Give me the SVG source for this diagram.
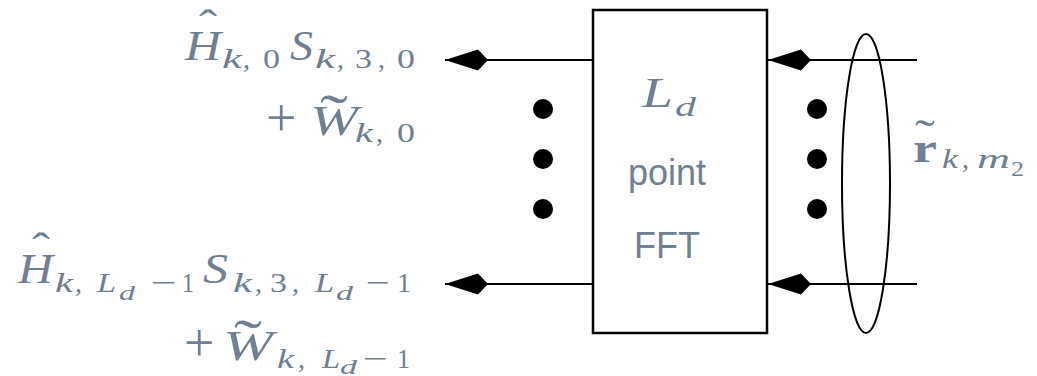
<svg xmlns="http://www.w3.org/2000/svg" width="1037" height="376" viewBox="0 0 1037 376">
<defs>
<style>
text{font-family:"Liberation Serif","Times New Roman",serif;fill:#708090;}
.i{font-style:italic;}
.n{font-style:normal;}
.b{font-weight:bold;}
.s0{font-size:42px;}
.s1{font-size:28px;}
.s2{font-size:20px;}
.sans{font-family:"Liberation Sans",Arial,sans-serif;font-size:36px;text-anchor:middle;}
.ln{stroke:#000;stroke-width:2;fill:none;}
.dot{fill:#000;}
</style>
<marker id="dia" viewBox="0 0 43 22" refX="43" refY="11" markerWidth="43" markerHeight="22" markerUnits="userSpaceOnUse" orient="auto">
<path d="M43,11 L10,0.5 L0,11 L10,21.5 Z" fill="#000"/>
</marker>
</defs>

<g id="fft-box">
<rect x="593" y="10" width="174" height="323" fill="#fff" stroke="#000" stroke-width="2.5"/>
<text class="i s0" x="642" y="107" textLength="31" lengthAdjust="spacingAndGlyphs">L</text>
<text class="i s1" x="675" y="116" textLength="21" lengthAdjust="spacingAndGlyphs">d</text>
<text class="sans" x="667" y="185">point</text>
<text class="sans" x="667" y="258">FFT</text>
</g>

<g id="connectors">
<path class="ln" d="M593,60 H445" marker-end="url(#dia)"/>
<path class="ln" d="M593,284 H445" marker-end="url(#dia)"/>
<path class="ln" d="M917,60 H768" marker-end="url(#dia)"/>
<path class="ln" d="M917,284 H768" marker-end="url(#dia)"/>
</g>

<g id="dots-left">
<circle class="dot" cx="543" cy="109" r="10"/>
<circle class="dot" cx="543" cy="159" r="10"/>
<circle class="dot" cx="543" cy="209" r="10"/>
</g>
<g id="dots-right">
<circle class="dot" cx="817" cy="109" r="10"/>
<circle class="dot" cx="817" cy="159" r="10"/>
<circle class="dot" cx="817" cy="209" r="10"/>
</g>

<g id="ellipse">
<ellipse cx="866" cy="183.5" rx="24" ry="149.5" fill="none" stroke="#000" stroke-width="2"/>
</g>

<g id="label-top">
<text class="i s0"><tspan class="n" x="199" y="39" textLength="18" lengthAdjust="spacingAndGlyphs">ˆ</tspan><tspan x="185" y="60" textLength="36" lengthAdjust="spacingAndGlyphs">H</tspan></text>
<text class="i s1" x="222" y="68" textLength="20" lengthAdjust="spacingAndGlyphs">k</text>
<text class="s1" x="243" y="68">,</text>
<text class="s1" x="263" y="68" textLength="17" lengthAdjust="spacingAndGlyphs">0</text>
<text class="i s0" x="290" y="60" textLength="23" lengthAdjust="spacingAndGlyphs">S</text>
<text class="i s1" x="315" y="68" textLength="20" lengthAdjust="spacingAndGlyphs">k</text>
<text class="s1" x="337" y="68">,</text>
<text class="s1" x="355" y="68" textLength="17" lengthAdjust="spacingAndGlyphs">3</text>
<text class="s1" x="378" y="68">,</text>
<text class="s1" x="397" y="68" textLength="18" lengthAdjust="spacingAndGlyphs">0</text>
<text x="266" y="136" font-size="54">+</text>
<text class="i s0"><tspan class="n" x="320" y="134" font-size="58" textLength="28" lengthAdjust="spacingAndGlyphs">˜</tspan><tspan x="310" y="135" textLength="48" lengthAdjust="spacingAndGlyphs">W</tspan></text>
<text class="i s1" x="355" y="142" textLength="18" lengthAdjust="spacingAndGlyphs">k</text>
<text class="s1" x="376" y="142">,</text>
<text class="s1" x="397" y="142" textLength="18" lengthAdjust="spacingAndGlyphs">0</text>
</g>

<g id="label-bottom">
<text class="i s0"><tspan class="n" x="32" y="262" textLength="18" lengthAdjust="spacingAndGlyphs">ˆ</tspan><tspan x="18" y="283" textLength="35" lengthAdjust="spacingAndGlyphs">H</tspan></text>
<text class="i s1" x="55" y="292" textLength="18" lengthAdjust="spacingAndGlyphs">k</text>
<text class="s1" x="75" y="292">,</text>
<text class="i s1" x="97" y="292" textLength="19" lengthAdjust="spacingAndGlyphs">L</text>
<text class="i s2" x="119" y="300" textLength="16" lengthAdjust="spacingAndGlyphs">d</text>
<text class="s1" x="151" y="292" textLength="26" lengthAdjust="spacingAndGlyphs">−</text>
<text class="s1" x="182" y="292" textLength="12" lengthAdjust="spacingAndGlyphs">1</text>
<text class="i s0" x="203" y="283" textLength="25" lengthAdjust="spacingAndGlyphs">S</text>
<text class="i s1" x="233" y="292" textLength="19" lengthAdjust="spacingAndGlyphs">k</text>
<text class="s1" x="255" y="292">,</text>
<text class="s1" x="270" y="292" textLength="17" lengthAdjust="spacingAndGlyphs">3</text>
<text class="s1" x="292" y="292">,</text>
<text class="i s1" x="315" y="292" textLength="19" lengthAdjust="spacingAndGlyphs">L</text>
<text class="i s2" x="336" y="300" textLength="17" lengthAdjust="spacingAndGlyphs">d</text>
<text class="s1" x="366" y="292" textLength="24" lengthAdjust="spacingAndGlyphs">−</text>
<text class="s1" x="397" y="292" textLength="14" lengthAdjust="spacingAndGlyphs">1</text>
<text x="184" y="361" font-size="54">+</text>
<text class="i s0"><tspan class="n" x="234" y="359" font-size="58" textLength="28" lengthAdjust="spacingAndGlyphs">˜</tspan><tspan x="223" y="360" textLength="50" lengthAdjust="spacingAndGlyphs">W</tspan></text>
<text class="i s1" x="277" y="368" textLength="17" lengthAdjust="spacingAndGlyphs">k</text>
<text class="s1" x="298" y="368">,</text>
<text class="i s1" x="322" y="368" textLength="18" lengthAdjust="spacingAndGlyphs">L</text>
<text class="i s2" x="340" y="374" textLength="17" lengthAdjust="spacingAndGlyphs">d</text>
<text class="s1" x="363" y="368" textLength="25" lengthAdjust="spacingAndGlyphs">−</text>
<text class="s1" x="397" y="368" textLength="13" lengthAdjust="spacingAndGlyphs">1</text>
</g>

<g id="label-right">
<text class="b s0"><tspan class="n" x="915" y="150" font-size="44" font-weight="normal" textLength="20" lengthAdjust="spacingAndGlyphs">˜</tspan><tspan x="913" y="162" textLength="24" lengthAdjust="spacingAndGlyphs">r</tspan></text>
<text class="i s1" x="942" y="168" textLength="16" lengthAdjust="spacingAndGlyphs">k</text>
<text class="s1" x="962" y="168">,</text>
<text class="i s1" x="977" y="168" textLength="33" lengthAdjust="spacingAndGlyphs">m</text>
<text class="s2" x="1011" y="176" textLength="13" lengthAdjust="spacingAndGlyphs">2</text>
</g>
</svg>
